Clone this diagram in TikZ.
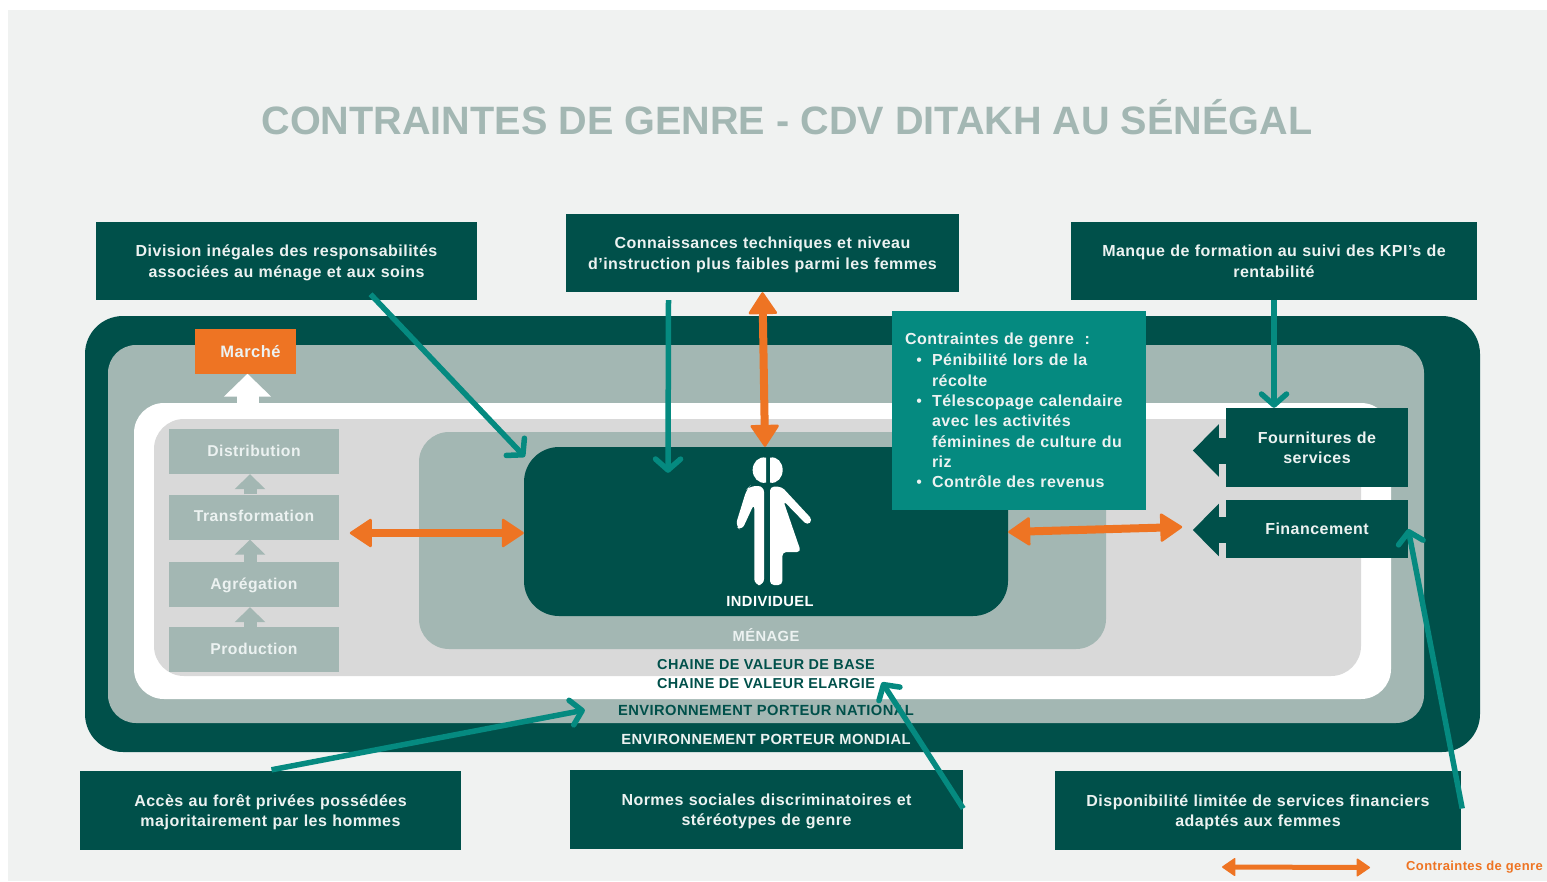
\documentclass[tikz,border=0pt]{standalone}
\usepackage{fontspec}
\setmainfont{Liberation Sans}[LetterSpace=3]
\newfontfamily\titlefont{Liberation Sans}
\usetikzlibrary{arrows.meta}
\definecolor{pagegrey}{RGB}{240,242,241}
\definecolor{darkgreen}{RGB}{0,80,74}
\definecolor{sagegreen}{RGB}{163,183,179}
\definecolor{lightgrey}{RGB}{217,217,217}
\definecolor{tealgreen}{RGB}{5,138,128}
\definecolor{orangeone}{RGB}{238,116,35}
\definecolor{paletext}{RGB}{236,242,241}
\newcommand{\twolines}[2]{\rule{0pt}{15.5pt}#1\\#2\rule[-4pt]{0pt}{4pt}}
\newcommand{\stepline}[1]{\rule[-4pt]{0pt}{17pt}#1}
\tikzset{
	panel/.style={inner sep=0pt, draw=none},
	notebox/.style={panel, fill=darkgreen, text=paletext, align=center, text width=380pt, minimum height=78pt, font=\fontsize{16}{20.5}\selectfont\bfseries},
	stepbox/.style={panel, fill=sagegreen, text=paletext, minimum width=170pt, minimum height=45pt, font=\fontsize{15.7}{20}\selectfont\bfseries},
	layerlabel/.style={inner sep=0pt, font=\fontsize{14.7}{16}\selectfont\bfseries},
	tealarrow/.style={draw=tealgreen, line width=5.5pt, -{Straight Barb[length=11pt,width=25pt,round]}},
	orangearrow/.style={draw=orangeone, line width=8pt, {Triangle[width=30pt,length=23pt,round,line width=2.5pt]}-{Triangle[width=30pt,length=23pt,round,line width=2.5pt]}},
	legendarrow/.style={draw=orangeone, line width=5pt, {Triangle[width=19pt,length=14pt,round,line width=1.5pt]}-{Triangle[width=19pt,length=14pt,round,line width=1.5pt]}},
	steparrow/.style={draw=sagegreen, line width=13pt, -{Triangle[width=30pt,length=15pt]}},
	servicearrow/.style={draw=darkgreen, line width=26pt, -{Triangle[width=51pt,length=26pt]}}
}
\begin{document}
\begin{tikzpicture}[x=1pt,y=-1pt]
	\useasboundingbox (0,0) rectangle (1547,881);
	\fill[white] (0,0) rectangle (1547,881);
	\fill[pagegrey] (8,10) rectangle (1547,881);
	
	\node[font=\fontsize{39.6}{46}\selectfont\titlefont\bfseries, text=sagegreen, inner sep=0pt] at (787,117.5) (title) {CONTRAINTES DE GENRE - CDV DITAKH AU SÉNÉGAL};
	
	% nested layers, outer one first
	\node[panel, fill=darkgreen, minimum width=1395pt, minimum height=436pt, rounded corners=38pt] at (782.5,534) (mondial) {};
	\node[panel, fill=sagegreen, minimum width=1316pt, minimum height=378pt, rounded corners=28pt] at (766,534) (national) {};
	\node[panel, fill=white, minimum width=1257pt, minimum height=296pt, rounded corners=30pt] at (762.5,551) (elargie) {};
	\node[panel, fill=lightgrey, minimum width=1207pt, minimum height=257pt, rounded corners=30pt] at (757.5,547.5) (base) {};
	\node[panel, fill=sagegreen, minimum width=687pt, minimum height=217pt, rounded corners=30pt] at (762.5,540.5) (menage) {};
	\node[panel, fill=darkgreen, minimum width=484pt, minimum height=169pt, rounded corners=35pt] at (766,531.5) (individuel) {};
	
	\node[layerlabel, text=white] at (770,602) (lindividuel) {INDIVIDUEL};
	\node[layerlabel, text=paletext] at (766,635) (lmenage) {MÉNAGE};
	\node[layerlabel, text=darkgreen, font=\fontsize{14.4}{16}\selectfont\bfseries] at (766,665) (lbase) {CHAINE DE VALEUR DE BASE};
	\node[layerlabel, text=darkgreen, font=\fontsize{14.4}{16}\selectfont\bfseries] at (766,684) (lelargie) {CHAINE DE VALEUR ELARGIE};
	\node[layerlabel, text=darkgreen] at (766,710) (lnational) {ENVIRONNEMENT PORTEUR NATIONAL};
	\node[layerlabel, text=paletext] at (766,739) (lmondial) {ENVIRONNEMENT PORTEUR MONDIAL};
	
	% chain steps
	\foreach \name/\ypos/\txt in {distribution/451.5/Distribution, transformation/517/Transformation, agregation/584.5/Agrégation, production/649.5/Production}
	\node[stepbox] at (254,\ypos) (\name) {\stepline{\txt}};
	
	\draw[steparrow] ([xshift=-4pt]transformation.north) -- ([xshift=-4pt]distribution.south);
	\draw[steparrow] ([xshift=-4pt]agregation.north) -- ([xshift=-4pt]transformation.south);
	\draw[steparrow] ([xshift=-4pt]production.north) -- ([xshift=-4pt]agregation.south);
	
	\node[stepbox, fill=orangeone, text=paletext, minimum width=101pt, font=\fontsize{16.5}{20}\selectfont\bfseries] at (245.5,351) (marche) {\hspace{10pt}\rule[-4pt]{0pt}{21pt}Marché};
	\draw[draw=white, line width=22pt, -{Triangle[width=46pt,length=23pt]}] (elargie.north -| marche.south) ++(2,0) -- ([xshift=2pt]marche.south);
	
	% service boxes
	\node[notebox, text width=170pt, minimum width=182pt, minimum height=79pt] at (1317,447.5) (fournitures) {\twolines{Fournitures de}{services}};
	\node[notebox, text width=170pt, minimum width=182pt, minimum height=58pt] at (1317,529) (financement) {Financement};
	\draw[servicearrow] (fournitures.west) ++(0,3) -- ++(-33,0);
	\draw[servicearrow] (financement.west) ++(0,1) -- ++(-33,0);
	
	% the person
	\begin{scope}[shift={(700,290)},scale=1/3,fill=white]
		\fill (198,503) .. controls (175,498) and (158,518) .. (158,540) .. controls (158,562) and (175,582) .. (198,578) -- cycle;
		\fill (210,503) .. controls (232,498) and (248,518) .. (248,540) .. controls (248,562) and (232,582) .. (210,578) -- cycle;
		\fill[rounded corners=6pt] (192,588) -- (192,885) -- (163,885) -- (163,640) -- (125,722) -- (106,708) -- (140,598) -- (150,588) -- cycle;
		\fill[rounded corners=4pt] (210,590) -- (245,590) -- (338,690) -- (322,706) -- (250,632) -- (303,786) -- (247,786) -- (247,885) -- (210,885) -- cycle;
	\end{scope}
	
	% gender constraints
	\node[panel, fill=tealgreen, text=paletext, minimum width=254pt, minimum height=199pt, text width=228pt, align=left, font=\fontsize{16}{20.3}\selectfont\bfseries] at (1019,410.5) (contraintes) {%
		Contraintes de genre\ \ :\par\vspace{-7pt}
		\setlength{\leftmargini}{27pt}\setlength{\labelsep}{10pt}\setlength{\topsep}{0pt}\setlength{\partopsep}{0pt}%
		\begin{itemize}\setlength{\itemsep}{0pt}\setlength{\parsep}{0pt}\setlength{\parskip}{0pt}%
			\item Pénibilité lors de la\\ récolte
			\item Télescopage calendaire\\ avec les activités\\ féminines de culture du\\ riz
			\item Contrôle des revenus
		\end{itemize}};
	
	% boxes around the frame
	\node[notebox, minimum width=381pt] at (286.5,261) (divresp) {\twolines{Division inégales des responsabilités}{associées au ménage et aux soins}};
	\node[notebox, minimum width=393pt] at (762.5,253) (connaissances) {\twolines{Connaissances techniques et niveau}{d'instruction plus faibles parmi les femmes}};
	\node[notebox, minimum width=406pt] at (1274,261) (formation) {\twolines{Manque de formation au suivi des KPI's de}{rentabilité}};
	\node[notebox, minimum width=381pt, minimum height=79pt] at (270.5,810.5) (foret) {\twolines{Accès au forêt privées possédées}{majoritairement par les hommes}};
	\node[notebox, minimum width=393pt, minimum height=79pt] at (766.5,809.5) (normes) {\twolines{Normes sociales discriminatoires et}{stéréotypes de genre}};
	\node[notebox, minimum width=406pt, minimum height=79pt] at (1258,810.5) (dispo) {\twolines{Disponibilité limitée de services financiers}{adaptés aux femmes}};
	
	% constraints arrows
	\draw[tealarrow] ([shift={(84,-6)}]divresp.south) -- ([shift={(1,10)}]individuel.north west);
	\draw[tealarrow] ([shift={(-94,8)}]connaissances.south) -- ([shift={(-98,26)}]individuel.north);
	\draw[tealarrow] (formation.south) -- ([shift={(-43,0)}]fournitures.north);
	\draw[tealarrow] ([shift={(1,-1)}]foret.north) -- ([shift={(-33,0)}]lnational.west);
	\draw[tealarrow] ([shift={(0,-1)}]normes.east) -- ([shift={(116,-7)}]lelargie.south);
	\draw[tealarrow] ([shift={(1,-2)}]dispo.east) -- (financement.east);
	\draw[orangearrow] (connaissances.south) -- ([shift={(-1,0)}]individuel.north);
	\draw[orangearrow] ([shift={(-174,1.5)}]individuel.west) -- ([shift={(0,1.5)}]individuel.west);
	\draw[orangearrow] ([shift={(0,0.5)}]individuel.east) -- ([shift={(174,-4.5)}]individuel.east);
	
	% legend
	\coordinate (legendstart) at (1222,867);
	\node[anchor=west, inner sep=0pt, text=orangeone, font=\fontsize{13}{16}\selectfont\bfseries] at (1406,867.5) (legendtxt) {Contraintes de genre};
	\draw[legendarrow] (legendstart) -- ([xshift=-36pt]legendtxt.west);
\end{tikzpicture}
\end{document}
